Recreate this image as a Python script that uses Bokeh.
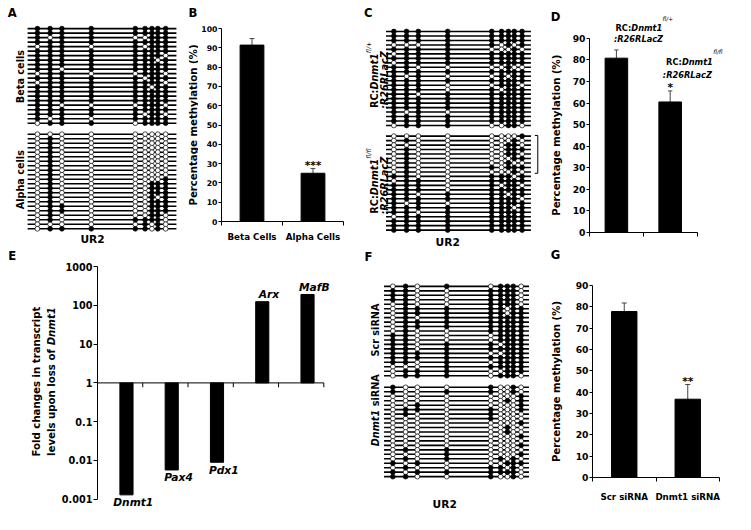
import math
from bokeh.plotting import figure
from bokeh.layouts import row, column
from bokeh.models import Range1d, Label, FixedTicker, CustomJSTickFormatter
from bokeh.embed import file_html
from bokeh.resources import INLINE

# ---------------------------------------------------------------- data
cpg_sites = [0, 13, 25, 55, 100, 110, 117, 123, 131]

beta_cells = [
    "111111111", "111111111", "101100111", "111111111", "011010111",
    "111111111", "111111110", "111111101", "111111111", "110111111",
    "011001110", "111110111", "011111110", "111111011", "111111111",
    "111111111", "111111111", "110001110", "111111111", "111110110",
    "101011111", "011101111",
]
alpha_cells = [
    "000000000", "010000000", "010000000", "010000000", "010000000",
    "010000000", "010000000", "010000000", "010000000", "010000000",
    "010000001", "010000111", "010000111", "010000111", "010000101",
    "010000111", "011000111", "011000111", "010000110", "010011110",
    "000001010", "011111010",
]
rc_fl_het = [
    "111111111", "111111111", "111111111", "000110101", "111100010",
    "011111111", "111111111", "011111111", "110000100", "111111111",
    "101001011", "111111111", "111001110", "111010111", "110111111",
    "111111111", "111111111", "111111111", "101011111", "111111111",
    "111111111", "011100110",
]
rc_fl_hom = [
    "000000001", "010000010", "000000110", "010000111", "010000110",
    "010000011", "010000100", "010010111", "010000010", "110011101",
    "011011111", "111010110", "111011111", "110111011", "111111110",
    "101011111", "111111101", "110111111", "011111111", "111111111",
    "111111111", "111111111",
]
scr_sirna = [
    "010101110", "110011110", "110011110", "110011110", "010011110",
    "011111011", "011111011", "010111111", "011111111", "011111111",
    "010011111", "110001111", "110001111", "110110111", "110111111",
    "111100111", "111111111", "110101111", "000111111", "011100111",
    "011101110",
]
dnmt1_sirna = [
    "100010010", "100110010", "000000001", "000000101", "001000001",
    "011010001", "010010000", "000010000", "000000001", "000000100",
    "000000100", "000000001", "000000000", "000000001", "010100000",
    "000100001", "010101010", "101000111", "010011010", "101111110",
    "110010010",
]

b_categories = ["Beta Cells", "Alpha Cells"]
b_values = [91.4, 25.0]
b_errors = [3.4, 2.5]
b_sig = ["", "***"]

d_values = [80.8, 60.5]
d_errors = [3.8, 5.1]
d_sig = ["", "*"]

e_genes = ["Dnmt1", "Pax4", "Pdx1", "Arx", "MafB"]
e_fold = [0.0013, 0.0057, 0.009, 124, 190]
e_ticks = [0.001, 0.01, 0.1, 1, 10, 100, 1000]

g_categories = ["Scr siRNA", "Dnmt1 siRNA"]
g_values = [77.8, 36.7]
g_errors = [4.0, 6.9]
g_sig = ["", "**"]

# ---------------------------------------------------------------- layout helpers
FONT = "DejaVu Sans"
SX = 735 / 751
SY = 514 / 530
FS = 0.97
SPLIT = 256
ERR = "#444444"
ROT = math.pi / 2

W = {'R': 0.770, 'C': 0.734, ':': 0.400, 'D': 0.830, 'n': 0.712, 'm': 1.042,
     't': 0.478, '1': 0.696, 'f': 0.435, 'l': 0.343, '/': 0.365, '+': 0.838,
     ' ': 0.348, 's': 0.595, 'i': 0.343, 'N': 0.837, 'A': 0.774, 'e': 0.678,
     'v': 0.652, 'u': 0.712, 'p': 0.716, 'o': 0.687}


def tw(s):
    return sum(W.get(c, 0.65) for c in s)


def spx(v):
    return int(round(v * SX))


def spy(v):
    return int(round(v * SY))


class Geo:
    def __init__(self, frame, xr, yr, ylog=False):
        self.fx0, self.fy0, self.fx1, self.fy1 = frame
        self.x0, self.x1 = xr
        self.y0, self.y1 = yr
        self.ylog = ylog

    def X(self, px):
        return self.x0 + (px - self.fx0) / (self.fx1 - self.fx0) * (self.x1 - self.x0)

    def PX(self, x):
        return self.fx0 + (x - self.x0) / (self.x1 - self.x0) * (self.fx1 - self.fx0)

    def Y(self, py):
        t = (self.fy1 - py) / (self.fy1 - self.fy0)
        if self.ylog:
            a, b = math.log10(self.y0), math.log10(self.y1)
            return 10 ** (a + t * (b - a))
        return self.y0 + t * (self.y1 - self.y0)

    def PY(self, y):
        if self.ylog:
            a, b = math.log10(self.y0), math.log10(self.y1)
            t = (math.log10(y) - a) / (b - a)
        else:
            t = (y - self.y0) / (self.y1 - self.y0)
        return self.fy1 - t * (self.fy1 - self.fy0)


def make_fig(region, frame, xr, yr, ylog=False, xaxis=False, yaxis=False):
    rx0, ry0, rx1, ry1 = region
    fx0, fy0, fx1, fy1 = frame
    p = figure(width=spx(rx1) - spx(rx0), height=spy(ry1) - spy(ry0),
               x_range=Range1d(*xr), y_range=Range1d(*yr),
               y_axis_type="log" if ylog else "linear",
               x_axis_location="below" if xaxis else None,
               y_axis_location="left" if yaxis else None,
               output_backend="svg", toolbar_location=None, title=None,
               min_border_left=spx(fx0) - spx(rx0), min_border_right=spx(rx1) - spx(fx1),
               min_border_top=spy(fy0) - spy(ry0), min_border_bottom=spy(ry1) - spy(fy1))
    p.frame_align = False
    p.outline_line_color = None
    p.grid.visible = False
    p.background_fill_color = "white"
    p.border_fill_color = "white"
    return p, Geo(frame, xr, yr, ylog)


def strip(region):
    """A text-only panel whose data units are reference pixels."""
    rx0, ry0, rx1, ry1 = region
    return make_fig(region, region, (rx0, rx1), (ry1, ry0))


def label(p, g, x, y, text, size, style="bold", align="center", baseline="middle", angle=0.0):
    p.add_layout(Label(x=g.X(x), y=g.Y(y), text=text, text_font=FONT,
                       text_font_size=f"{size * FS:.2f}px", text_font_style=style,
                       text_color="black", text_align=align, text_baseline=baseline,
                       angle=angle))


def rich(p, g, x, y, parts, vertical=False):
    pos = 0.0
    for text, size, style, sup in parts:
        core = text.strip(" ")
        lead = len(text) - len(text.lstrip(" "))
        trail = len(text) - len(text.rstrip(" "))
        pos += lead * W[" "] * size
        if vertical:
            label(p, g, x - sup, y - pos, core, size, style, align="left", angle=ROT)
        else:
            label(p, g, x + pos, y - sup, core, size, style, align="left")
        pos += (tw(core) + trail * W[" "]) * size


def meth_panel(region, site0_px, top_px, pitch, bottom_top_px, line_ext, groups):
    rx0, ry0, rx1, ry1 = region
    xr = (rx0 - site0_px, rx1 - site0_px)
    yr = ((ry1 - top_px) / pitch, (ry0 - top_px) / pitch)
    p, g = make_fig(region, region, xr, yr)
    starts = [0.0, (bottom_top_px - top_px) / pitch]
    for mat, s in zip(groups, starts):
        ys = [s + i for i in range(len(mat))]
        p.segment(x0=line_ext[0], x1=line_ext[1], y0=ys, y1=ys,
                  line_color="black", line_width=1.6)
    for mat, s in zip(groups, starts):
        fx, fy, ox, oy = [], [], [], []
        for i, pattern in enumerate(mat):
            for j, ch in enumerate(pattern):
                if ch == "1":
                    fx.append(cpg_sites[j]); fy.append(s + i)
                else:
                    ox.append(cpg_sites[j]); oy.append(s + i)
        p.scatter(ox, oy, size=4.8, marker="circle", fill_color="white",
                  line_color="black", line_width=0.7)
        p.scatter(fx, fy, size=4.8, marker="circle", fill_color="black",
                  line_color="black", line_width=0.7)
    return p, g, starts


def bar_panel(region, frame, xr, yr, ymax, values, errors, cats, sig, bar_w,
              cat_standoff, tick_font):
    p, g = make_fig(region, frame, xr, yr, xaxis=True, yaxis=True)
    xs = [i + 0.5 for i in range(len(values))]
    tops = [v + e for v, e in zip(values, errors)]
    p.segment(x0=xs, x1=xs, y0=values, y1=tops, line_color=ERR, line_width=1)
    p.segment(x0=[x - 0.04 for x in xs], x1=[x + 0.04 for x in xs], y0=tops, y1=tops,
              line_color=ERR, line_width=1)
    p.vbar(x=xs, width=bar_w, top=values, bottom=0, fill_color="black", line_color="black")
    ya = p.yaxis[0]
    xa = p.xaxis[0]
    ya.ticker = FixedTicker(ticks=list(range(0, ymax + 1, 10)))
    ya.bounds = (0, ymax)
    xa.bounds = (0, len(values))
    for ax in (xa, ya):
        ax.axis_line_color = "black"
        ax.axis_line_width = 1
        ax.major_label_text_font = FONT
        ax.major_label_text_font_style = "bold"
        ax.major_label_text_color = "black"
        ax.minor_tick_line_color = None
    ya.major_label_text_font_size = f"{tick_font * FS:.2f}px"
    ya.major_tick_out = 3
    ya.major_tick_in = 0
    ya.major_label_standoff = 1
    ya.major_tick_line_color = "black"
    xa.ticker = FixedTicker(ticks=xs if cats else [], minor_ticks=list(range(len(values) + 1)))
    xa.formatter = CustomJSTickFormatter(args=dict(cats=cats if cats else ["", ""]),
                                         code="return cats[Math.floor(tick)] || '';")
    xa.major_label_text_font_size = f"{9 * FS:.2f}px"
    xa.major_tick_line_color = None
    xa.major_tick_out = 0
    xa.major_tick_in = 0
    xa.minor_tick_line_color = "black"
    xa.minor_tick_out = 4
    xa.minor_tick_in = 0
    xa.major_label_standoff = cat_standoff
    for x, t, s in zip(xs, tops, sig):
        if s:
            label(p, g, g.PX(x), g.PY(t) - 3.3, s, 11)
    return p, g


def ext_range(f0, f1, v0, v1, p_lo, p_hi):
    """data range for a frame from pixel p_lo to p_hi, where f0->v0 and f1->v1"""
    k = (v1 - v0) / (f1 - f0)
    return (v0 + (p_lo - f0) * k, v0 + (p_hi - f0) * k)


# ---------------------------------------------------------------- panel A
pA, gA, stA = meth_panel((0, 0, 190, SPLIT), 37.7, 29, 4.65, 138, (-10, 142),
                         [beta_cells, alpha_cells])
label(pA, gA, 12, 13, "A", 12)
label(pA, gA, 20.7, 78.5, "Beta cells", 10, angle=ROT)
label(pA, gA, 20.7, 185, "Alpha cells", 10, angle=ROT)
label(pA, gA, 94, 247, "UR2", 11)

# ---------------------------------------------------------------- panel B
sB, gsB = strip((190, 0, 202, SPLIT))
label(sB, gsB, 196.5, 13, "B", 12)
label(sB, gsB, 196.5, 128.5, "Percentage methylation (%)", 10.5, angle=ROT)
pB, gB = bar_panel((202, 0, 370, SPLIT), (223, 29, 350, 228), (0, 2), (0, 100), 100,
                   b_values, b_errors, b_categories, b_sig, 0.39, 6, 8)

# ---------------------------------------------------------------- panel C
pC, gC, stC = meth_panel((370, 0, 562, SPLIT), 402, 32, 4.62, 140, (-8, 140),
                         [rc_fl_het, rc_fl_hom])
yb0 = stC[1] - 0.15
yb1 = stC[1] + 8.3
pC.line(x=[144, 147, 147, 144], y=[yb0, yb0, yb1, yb1], line_color="black", line_width=1)
label(pC, gC, 376, 13, "C", 12)
rich(pC, gC, 382, 111, [("RC:", 10, "bold", 0), ("Dnmt1", 10, "bold italic", 0),
                        ("fl/+", 6.5, "italic", 6)], vertical=True)
rich(pC, gC, 392, 112, [(":R26RLacZ", 10, "bold italic", 0)], vertical=True)
rich(pC, gC, 382, 220, [("RC:", 10, "bold", 0), ("Dnmt1", 10, "bold italic", 0),
                        ("fl/fl", 6.5, "italic", 6)], vertical=True)
rich(pC, gC, 392, 221, [(":R26RLacZ", 10, "bold italic", 0)], vertical=True)
label(pC, gC, 457, 250, "UR2", 11)

# ---------------------------------------------------------------- panel D
sD, gsD = strip((562, 0, 576, SPLIT))
label(sD, gsD, 567, 17, "D", 12)
label(sD, gsD, 568.3, 139, "Percentage methylation (%)", 10.5, angle=ROT)
xrD = ext_range(601.7, 711.7, 0, 2, 601.7, 751)
yrD = ext_range(239.3, 39, 0, 90, 239.3, 0)
pD, gD = bar_panel((576, 0, 751, SPLIT), (601.7, 0, 751, 239.3), xrD, yrD, 90,
                   d_values, d_errors, None, d_sig, 0.42, 6, 9.5)
rich(pD, gD, 628.3, 28, [("RC:", 8.5, "bold", 0), ("Dnmt1", 8.5, "bold italic", 0),
                         ("fl/+", 6, "italic", 9)])
rich(pD, gD, 626.7, 40, [(":R26RLacZ", 8.5, "bold italic", 0)])
rich(pD, gD, 680, 63.3, [("RC:", 8.5, "bold", 0), ("Dnmt1", 8.5, "bold italic", 0),
                         ("fl/fl", 6, "italic", 10)])
rich(pD, gD, 676.7, 76.7, [(":R26RLacZ", 8.5, "bold italic", 0)])

# ---------------------------------------------------------------- panel E
E_CUT = 59
sE, gsE = strip((0, SPLIT, E_CUT, 530))
label(sE, gsE, 12, 264, "E", 12)
label(sE, gsE, 36.5, 393, "Fold changes in transcript", 10.5, angle=ROT)
l2 = [("levels upon loss of ", 10.5, "bold", 0), ("Dnmt1", 10.5, "bold italic", 0)]
rich(sE, gsE, 52, 393 + sum(tw(t) * s for t, s, _, _ in l2) / 2, l2, vertical=True)

xrE = ext_range(96, 330, 0, len(e_genes), 96, 370)
dec = (514.3 - 274) / 6.0
yrE = (10 ** (-3 - (530 - 514.3) / dec), 1000)
pE, gE = make_fig((E_CUT, SPLIT, 370, 530), (96, 274, 370, 530), xrE, yrE,
                  ylog=True, xaxis=False, yaxis=True)
xs_e = [i + 0.64 for i in range(len(e_genes))]
pE.vbar(x=xs_e, width=0.29, top=e_fold, bottom=1, fill_color="black", line_color="black")
pE.segment(x0=0, x1=len(e_genes), y0=1, y1=1, line_color="black", line_width=1)
bounds = list(range(1, len(e_genes) + 1))
pE.segment(x0=bounds, x1=bounds, y0=1, y1=gE.Y(gE.PY(1) + 4.5), line_color="black", line_width=1)
ye = pE.yaxis[0]
ye.ticker = FixedTicker(ticks=e_ticks)
ye.bounds = (e_ticks[0], e_ticks[-1])
ye.formatter = CustomJSTickFormatter(code="return tick >= 1 ? tick.toFixed(0) : tick.toPrecision(1);")
ye.axis_line_color = "black"
ye.major_tick_line_color = "black"
ye.major_tick_out = 4
ye.major_tick_in = 0
ye.minor_tick_line_color = None
ye.major_label_standoff = 1
ye.major_label_text_font = FONT
ye.major_label_text_font_style = "bold"
ye.major_label_text_font_size = f"{10 * FS:.2f}px"
ye.major_label_text_color = "black"
for x, v, name in zip(xs_e, e_fold, e_genes):
    label(pE, gE, gE.PX(x) + 7, gE.PY(v) + (8 if v < 1 else -7.5), name, 11, "bold italic")

# ---------------------------------------------------------------- panel F
pF, gF, stF = meth_panel((370, SPLIT, 562, 530), 401, 295, 4.6, 399, (-9, 139),
                         [scr_sirna, dnmt1_sirna])
label(pF, gF, 376, 265, "F", 12)
label(pF, gF, 383.3, 340, "Scr siRNA", 10, angle=ROT)
lf = [("Dnmt1", 10, "bold italic", 0), (" siRNA", 10, "bold", 0)]
rich(pF, gF, 383.3, 422.5 + sum(tw(t) * s for t, s, _, _ in lf) / 2, lf, vertical=True)
label(pF, gF, 454, 520, "UR2", 11)

# ---------------------------------------------------------------- panel G
sG, gsG = strip((562, SPLIT, 576, 530))
label(sG, gsG, 567, 263, "G", 12)
label(sG, gsG, 568.3, 393, "Percentage methylation (%)", 10.5, angle=ROT)
pG, gG = bar_panel((576, SPLIT, 751, 530), (605, 294.3, 735, 491.7), (0, 2), (0, 90), 90,
                   g_values, g_errors, g_categories, g_sig, 0.4, 10, 9.5)

layout = column(row(pA, sB, pB, pC, sD, pD), row(sE, pE, pF, sG, pG))
open("out.html", "w").write(file_html(layout, INLINE, title="Dnmt1 methylation"))
